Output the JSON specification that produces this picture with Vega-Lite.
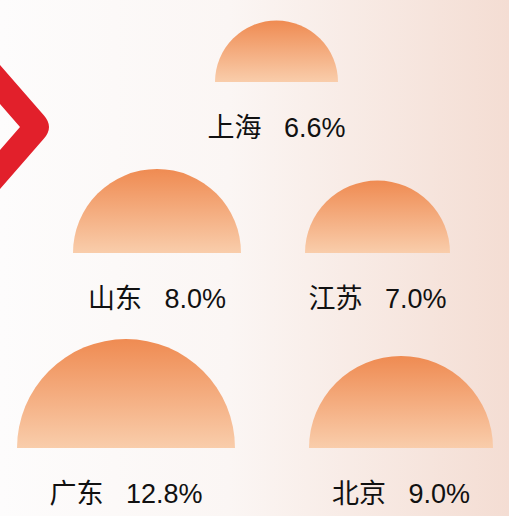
{
  "$schema": "https://vega.github.io/schema/vega-lite/v6.json",
  "width": 509,
  "height": 516,
  "autosize": "none",
  "padding": 0,
  "config": {
    "view": {
      "stroke": null,
      "fill": {
        "gradient": "linear",
        "x1": 0, "y1": 0, "x2": 1, "y2": 0,
        "stops": [
          {"offset": 0, "color": "#fdfcfc"},
          {"offset": 0.45, "color": "#fbf6f4"},
          {"offset": 1, "color": "#f4ddd3"}
        ]
      }
    }
  },
  "datasets": {
    "regions": [
      {"name": "上海", "value": 6.6, "row": 1, "col": 3},
      {"name": "山东", "value": 8.0, "row": 2, "col": 2},
      {"name": "江苏", "value": 7.0, "row": 2, "col": 4},
      {"name": "广东", "value": 12.8, "row": 3, "col": 1},
      {"name": "北京", "value": 9.0, "row": 3, "col": 5}
    ],
    "decor": [
      {"item": "chevron", "row": 1, "col": 0}
    ]
  },
  "encoding": {
    "x": {
      "field": "col", "type": "quantitative", "axis": null,
      "scale": {"domain": [0, 1, 2, 3, 4, 5], "range": [0, 126, 157, 276.5, 377.5, 401], "zero": false, "nice": false}
    },
    "y": {
      "field": "row", "type": "quantitative", "axis": null,
      "scale": {"domain": [1, 2, 3], "range": [82, 253, 448], "zero": false, "nice": false}
    }
  },
  "layer": [
    {
      "data": {"name": "decor"},
      "mark": {
        "type": "point",
        "filled": true,
        "opacity": 1,
        "size": 4,
        "fill": "#e2202b",
        "strokeWidth": 0,
        "shape": "M -20,-40 L 44,33.5 Q 54,45 44,56.5 L -20,130 L -20,91 L 20,45 L -20,-1 Z"
      }
    },
    {
      "data": {"name": "regions"},
      "mark": {
        "type": "arc",
        "theta": -1.5707963,
        "theta2": 1.5707963,
        "radius2": 0,
        "fill": {
          "gradient": "linear",
          "x1": 0, "y1": 0, "x2": 0, "y2": 1,
          "stops": [
            {"offset": 0, "color": "#ef8b52"},
            {"offset": 1, "color": "#f9cdab"}
          ]
        }
      },
      "encoding": {
        "radius": {
          "field": "value", "type": "quantitative", "legend": null, "stack": null,
          "scale": {"type": "linear", "domain": [6.6, 7.0, 8.0, 9.0, 12.8], "range": [61.5, 72.5, 84, 92, 109], "zero": false, "nice": false}
        },
        "radius2": {"value": 0}
      }
    },
    {
      "data": {"name": "regions"},
      "transform": [
        {"calculate": "datum.name + '\u00a0\u00a0\u00a0' + format(datum.value, '.1f') + '%'", "as": "label"}
      ],
      "mark": {
        "type": "text",
        "align": "center",
        "baseline": "alphabetic",
        "dy": 55,
        "font": "Liberation Sans, Noto Sans CJK SC, sans-serif",
        "fontSize": 27,
        "fill": "#111111"
      },
      "encoding": {
        "text": {"field": "label", "type": "nominal"}
      }
    }
  ]
}
